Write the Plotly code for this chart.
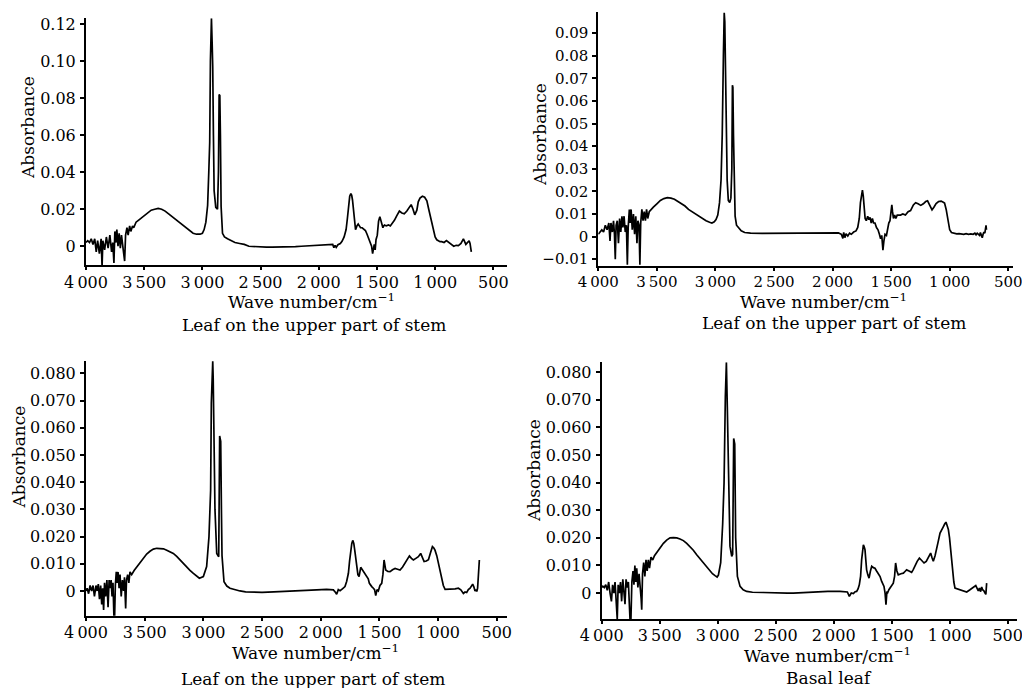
import plotly.graph_objects as go

# ---------------- data (wave number cm^-1, absorbance) ----------------
wn1 = [4000, 3985, 3970, 3955, 3940, 3925, 3912, 3900, 3885, 3870, 3862, 3855, 3840, 3825, 3810, 3795,
       3780, 3770, 3760, 3752, 3742, 3735, 3725, 3715, 3705, 3695, 3680, 3668, 3660, 3648, 3638, 3625,
       3615, 3600, 3590, 3570, 3550, 3530, 3500, 3470, 3440, 3410, 3380, 3350, 3320, 3290, 3260, 3230,
       3200, 3170, 3140, 3110, 3080, 3050, 3020, 3000, 2985, 2970, 2955, 2945, 2937, 2931, 2922, 2916,
       2911, 2905, 2899, 2885, 2870, 2862, 2856, 2850, 2845, 2839, 2827, 2810, 2784, 2750, 2720, 2680,
       2640, 2600, 2550, 2500, 2450, 2400, 2350, 2300, 2250, 2200, 2150, 2100, 2050, 2000, 1950, 1900,
       1880, 1870, 1860, 1850, 1835, 1815, 1800, 1782, 1765, 1754, 1744, 1734, 1724, 1717, 1710, 1703,
       1694, 1684, 1672, 1661, 1651, 1641, 1627, 1613, 1599, 1585, 1570, 1556, 1546, 1537, 1530, 1523,
       1515, 1508, 1497, 1486, 1475, 1463, 1456, 1449, 1442, 1435, 1420, 1400, 1385, 1371, 1350, 1329,
       1307, 1286, 1265, 1243, 1225, 1206, 1190, 1175, 1157, 1145, 1130, 1109, 1090, 1071, 1055, 1037,
       1020, 1000, 986, 972, 958, 944, 923, 903, 882, 861, 840, 819, 800, 778, 757, 736, 722, 708,
       700, 689, 678, 667, 660, 653]
ab1 = [0.002, 0.003, 0.002, 0.004, 0.001, 0.004, -0.003, 0.003, -0.004, 0.004, -0.011, 0.003, -0.002,
       0.005, -0.001, 0.006, -0.003, 0.002, -0.009, 0.008, 0.002, 0.009, 0.0, 0.007, -0.001, 0.006,
       -0.002, -0.008, 0.006, 0.010, 0.006, 0.011, 0.008, 0.011, 0.010, 0.013, 0.014, 0.015, 0.017,
       0.0185, 0.0195, 0.0200, 0.0205, 0.0200, 0.0190, 0.0175, 0.0160, 0.0145, 0.0125, 0.0110, 0.0095,
       0.0080, 0.0070, 0.0065, 0.0065, 0.0070, 0.0090, 0.0130, 0.0220, 0.0400, 0.0560, 0.1000, 0.1232,
       0.1100, 0.0970, 0.0600, 0.0300, 0.0210, 0.0200, 0.0400, 0.0820, 0.0815, 0.0600, 0.0215, 0.0070,
       0.0050, 0.0040, 0.0030, 0.0020, 0.0015, 0.0010, 0.0000, -0.0003, -0.0005, -0.0005, -0.0005,
       -0.0005, -0.0004, -0.0003, -0.0002, 0.0000, 0.0002, 0.0004, 0.0005, 0.0007, 0.0008, 0.0010,
       -0.0008, 0.0005, -0.0006, 0.0008, 0.0015, 0.0027, 0.0050, 0.0090, 0.0150, 0.0230, 0.0270,
       0.0285, 0.0275, 0.0250, 0.0200, 0.0145, 0.0090, 0.0110, 0.0120, 0.0110, 0.0100, 0.0100,
       0.0090, 0.0085, 0.0065, 0.0040, 0.0020, 0.0000, -0.0040, -0.0010, 0.0010, -0.0020, 0.0035,
       0.0060, 0.0135, 0.0160, 0.0130, 0.0110, 0.0100, 0.0110, 0.0115, 0.0110, 0.0115, 0.0110, 0.0120,
       0.0140, 0.0165, 0.0190, 0.0180, 0.0175, 0.0190, 0.0210, 0.0225, 0.0200, 0.0170, 0.0195, 0.0240,
       0.0260, 0.0270, 0.0265, 0.0245, 0.0200, 0.0150, 0.0100, 0.0050, 0.0035, 0.0030, 0.0025, 0.0025,
       0.0020, 0.0030, 0.0020, 0.0005, 0.0000, 0.0005, 0.0003, 0.0015, 0.0040, 0.0010, 0.0020, 0.0030,
       0.0015, -0.0030]

wn2 = [4000, 3985, 3970, 3955, 3940, 3925, 3910, 3900, 3892, 3880, 3870, 3862, 3855, 3848, 3838, 3828,
       3818, 3808, 3798, 3790, 3780, 3770, 3760, 3752, 3745, 3735, 3728, 3720, 3710, 3700, 3690, 3680,
       3670, 3662, 3652, 3645, 3638, 3628, 3618, 3608, 3598, 3588, 3578, 3565, 3550, 3530, 3500, 3470,
       3440, 3410, 3380, 3350, 3320, 3290, 3260, 3230, 3200, 3170, 3140, 3110, 3080, 3050, 3030, 3010,
       2995, 2980, 2965, 2952, 2942, 2932, 2925, 2920, 2914, 2908, 2900, 2890, 2878, 2868, 2860, 2855,
       2851, 2846, 2840, 2832, 2820, 2800, 2780, 2750, 2700, 2600, 2500, 2400, 2300, 2200, 2100, 2000,
       1950, 1925, 1912, 1905, 1895, 1885, 1870, 1855, 1840, 1820, 1800, 1785, 1772, 1762, 1752, 1745,
       1738, 1730, 1722, 1712, 1700, 1690, 1680, 1670, 1660, 1650, 1638, 1625, 1612, 1600, 1590, 1580,
       1570, 1562, 1552, 1540, 1530, 1520, 1510, 1500, 1494, 1488, 1480, 1470, 1460, 1448, 1440, 1420,
       1400, 1378, 1355, 1334, 1310, 1291, 1270, 1247, 1225, 1205, 1189, 1170, 1151, 1135, 1116, 1095,
       1073, 1055, 1044, 1030, 1015, 1000, 985, 960, 940, 920, 900, 880, 860, 840, 820, 800, 785, 775,
       765, 755, 745, 738, 730, 722, 715, 708, 700, 695, 690, 686]
ab2 = [0.001, 0.002, 0.003, 0.002, 0.005, 0.003, 0.006, -0.002, 0.006, 0.002, 0.007, 0.001, -0.010,
       0.005, 0.007, -0.003, 0.008, 0.002, 0.009, 0.004, 0.009, 0.002, 0.005, -0.0125, 0.004, 0.012,
       0.006, 0.012, 0.003, 0.010, 0.001, 0.009, -0.003, 0.007, 0.005, -0.0125, 0.006, 0.012, 0.007,
       0.011, 0.007, 0.012, 0.008, 0.011, 0.012, 0.013, 0.0145, 0.0160, 0.0168, 0.0172, 0.0170, 0.0165,
       0.0155, 0.0145, 0.0135, 0.0120, 0.0110, 0.0098, 0.0088, 0.0078, 0.0070, 0.0063, 0.0060, 0.0065,
       0.0075, 0.0095, 0.0150, 0.0250, 0.0450, 0.0800, 0.0990, 0.0950, 0.0780, 0.0500, 0.0250, 0.0160,
       0.0150, 0.0170, 0.0300, 0.0670, 0.0660, 0.0450, 0.0200, 0.0090, 0.0050, 0.0035, 0.0025, 0.0018,
       0.0015, 0.0014, 0.0014, 0.0014, 0.0014, 0.0015, 0.0015, 0.0016, 0.0016, 0.0010, -0.0008,
       0.0018, -0.0005, 0.0012, 0.0002, 0.0015, 0.0010, 0.0020, 0.0025, 0.0040, 0.0080, 0.0150,
       0.0195, 0.0205, 0.0180, 0.0120, 0.0080, 0.0070, 0.0090, 0.0075, 0.0085, 0.0060, 0.0080, 0.0060,
       0.0060, 0.0040, 0.0030, 0.0010, -0.0010, 0.0005, -0.0060, -0.0020, 0.0010, 0.0005, 0.0040,
       0.0060, 0.0070, 0.0120, 0.0140, 0.0110, 0.0080, 0.0095, 0.0080, 0.0095, 0.0095, 0.0095, 0.0100,
       0.0095, 0.0110, 0.0115, 0.0140, 0.0150, 0.0145, 0.0138, 0.0145, 0.0155, 0.0158, 0.0135, 0.0118,
       0.0130, 0.0146, 0.0155, 0.0157, 0.0152, 0.0148, 0.0120, 0.0080, 0.0030, 0.0018, 0.0015, 0.0012,
       0.0013, 0.0012, 0.0010, 0.0013, 0.0010, 0.0012, 0.0010, 0.0015, 0.0008, 0.0015, 0.0010, 0.0005,
       0.0018, 0.0008, -0.0005, 0.0010, 0.0020, 0.0015, 0.0040, 0.0050, 0.0030]

wn3 = [4000, 3990, 3978, 3965, 3952, 3940, 3928, 3915, 3905, 3895, 3885, 3875, 3866, 3858, 3850, 3842,
       3832, 3822, 3812, 3803, 3795, 3786, 3778, 3770, 3762, 3756, 3750, 3742, 3735, 3727, 3718, 3710,
       3700, 3690, 3680, 3672, 3662, 3655, 3645, 3635, 3625, 3611, 3590, 3568, 3547, 3526, 3505, 3483,
       3455, 3426, 3397, 3369, 3340, 3312, 3284, 3256, 3227, 3199, 3170, 3142, 3114, 3085, 3060, 3034,
       3000, 2972, 2952, 2938, 2932, 2926, 2920, 2916, 2912, 2906, 2901, 2886, 2869, 2861, 2852, 2846,
       2841, 2824, 2800, 2773, 2720, 2688, 2640, 2574, 2500, 2400, 2318, 2200, 2100, 2034, 1950, 1892,
       1875, 1864, 1850, 1835, 1815, 1793, 1779, 1764, 1754, 1744, 1735, 1727, 1718, 1710, 1700, 1693,
       1683, 1673, 1659, 1648, 1636, 1622, 1608, 1595, 1585, 1575, 1565, 1551, 1541, 1531, 1520, 1509,
       1495, 1480, 1470, 1460, 1453, 1446, 1428, 1409, 1388, 1366, 1345, 1324, 1302, 1281, 1262, 1244,
       1227, 1210, 1189, 1168, 1148, 1133, 1119, 1100, 1082, 1065, 1048, 1036, 1026, 1011, 997, 983,
       969, 955, 940, 912, 884, 855, 827, 806, 784, 770, 756, 742, 727, 716, 705, 695, 685, 677, 670,
       663, 656, 651, 648]
ab3 = [0.0000, 0.0010, -0.0010, 0.0020, 0.0000, 0.0020, -0.0020, 0.0020, 0.0000, 0.0025, -0.0030,
       0.0020, -0.0050, 0.0010, -0.0070, 0.0030, -0.0020, 0.0040, -0.0060, 0.0040, 0.0010, 0.0040,
       -0.0020, 0.0030, -0.0095, -0.0095, 0.0020, 0.0070, 0.0030, 0.0070, 0.0010, 0.0060, -0.0020,
       0.0040, 0.0000, 0.0050, -0.0064, 0.0040, 0.0060, 0.0030, 0.0070, 0.0060, 0.0075, 0.0087,
       0.0100, 0.0114, 0.0125, 0.0136, 0.0146, 0.0154, 0.0157, 0.0157, 0.0155, 0.0150, 0.0145, 0.0138,
       0.0127, 0.0114, 0.0100, 0.0087, 0.0076, 0.0065, 0.0055, 0.0047, 0.0053, 0.0090, 0.0200, 0.0370,
       0.0690, 0.0800, 0.0845, 0.0780, 0.0660, 0.0450, 0.0300, 0.0138, 0.0126, 0.0570, 0.0550, 0.0300,
       0.0130, 0.0034, 0.0018, 0.0010, 0.0003, 0.0000, -0.0003, -0.0005, -0.0005, -0.0003, -0.0002,
       0.0000, 0.0002, 0.0004, 0.0006, 0.0004, -0.0005, -0.0012, 0.0005, 0.0001, 0.0008, 0.0016,
       0.0035, 0.0065, 0.0110, 0.0150, 0.0175, 0.0186, 0.0175, 0.0150, 0.0110, 0.0077, 0.0060, 0.0053,
       0.0087, 0.0080, 0.0071, 0.0065, 0.0055, 0.0045, 0.0028, 0.0020, 0.0016, 0.0010, 0.0005, -0.0017,
       0.0005, 0.0000, 0.0020, 0.0028, 0.0060, 0.0114, 0.0095, 0.0077, 0.0072, 0.0071, 0.0078, 0.0083,
       0.0080, 0.0077, 0.0088, 0.0102, 0.0118, 0.0129, 0.0120, 0.0114, 0.0120, 0.0126, 0.0138, 0.0120,
       0.0108, 0.0110, 0.0115, 0.0140, 0.0163, 0.0158, 0.0150, 0.0130, 0.0102, 0.0070, 0.0040, 0.0020,
       0.0006, 0.0006, 0.0006, 0.0008, 0.0010, 0.0004, -0.0009, -0.0004, -0.0006, 0.0005, 0.0010,
       0.0020, 0.0025, 0.0015, 0.0000, 0.0005, -0.0002, 0.0010, 0.0045, 0.0090, 0.0114]

wn4 = [4000, 3990, 3978, 3965, 3952, 3940, 3928, 3916, 3906, 3895, 3885, 3875, 3866, 3858, 3848, 3838,
       3828, 3818, 3808, 3799, 3790, 3780, 3770, 3762, 3756, 3748, 3740, 3730, 3722, 3714, 3706, 3698,
       3688, 3678, 3668, 3660, 3655, 3648, 3638, 3628, 3618, 3608, 3598, 3588, 3575, 3560, 3545, 3528,
       3511, 3490, 3468, 3440, 3411, 3382, 3353, 3325, 3296, 3267, 3239, 3210, 3181, 3152, 3124, 3095,
       3066, 3045, 3023, 3005, 2994, 2974, 2957, 2945, 2934, 2925, 2917, 2905, 2894, 2879, 2871, 2862,
       2853, 2845, 2830, 2807, 2780, 2750, 2700, 2606, 2500, 2400, 2348, 2250, 2147, 2050, 1945, 1900,
       1882, 1865, 1848, 1830, 1815, 1802, 1790, 1779, 1768, 1759, 1750, 1744, 1737, 1730, 1723, 1716,
       1705, 1695, 1683, 1672, 1658, 1644, 1630, 1615, 1600, 1586, 1575, 1566, 1557, 1549, 1541, 1534,
       1524, 1514, 1500, 1486, 1475, 1466, 1455, 1443, 1420, 1399, 1385, 1371, 1350, 1328, 1314, 1299,
       1280, 1261, 1241, 1221, 1202, 1184, 1164, 1152, 1141, 1126, 1112, 1097, 1083, 1069, 1055, 1043,
       1032, 1022, 1011, 1001, 991, 982, 974, 964, 954, 932, 911, 882, 853, 825, 796, 775, 753, 743,
       733, 724, 716, 705, 695, 688, 681, 672, 664]
ab4 = [0.0020, 0.0025, 0.0020, 0.0030, 0.0010, 0.0040, 0.0000, -0.0030, 0.0030, 0.0000, 0.0040,
       -0.0020, -0.0095, 0.0030, 0.0000, 0.0040, -0.0030, 0.0050, -0.0010, -0.0040, 0.0050, 0.0020,
       0.0040, -0.0020, -0.0095, -0.0095, 0.0040, 0.0080, 0.0030, 0.0100, 0.0040, 0.0090, 0.0020,
       0.0070, 0.0030, -0.0020, -0.0060, 0.0070, 0.0110, 0.0060, 0.0120, 0.0080, 0.0120, 0.0090,
       0.0130, 0.0120, 0.0135, 0.0145, 0.0157, 0.0168, 0.0180, 0.0192, 0.0200, 0.0201, 0.0200, 0.0196,
       0.0190, 0.0180, 0.0169, 0.0155, 0.0139, 0.0124, 0.0109, 0.0093, 0.0078, 0.0070, 0.0063, 0.0058,
       0.0065, 0.0110, 0.0250, 0.0400, 0.0710, 0.0836, 0.0675, 0.0400, 0.0170, 0.0133, 0.0140, 0.0560,
       0.0540, 0.0200, 0.0060, 0.0024, 0.0012, 0.0006, 0.0003, 0.0002, 0.0000, 0.0000, 0.0000, 0.0002,
       0.0005, 0.0006, 0.0006, 0.0005, 0.0004, -0.0012, 0.0000, -0.0002, 0.0005, 0.0006, 0.0015, 0.0030,
       0.0060, 0.0120, 0.0160, 0.0175, 0.0168, 0.0157, 0.0120, 0.0084, 0.0065, 0.0054, 0.0080, 0.0097,
       0.0092, 0.0090, 0.0080, 0.0072, 0.0060, 0.0042, 0.0030, 0.0024, 0.0000, -0.0042, 0.0005, 0.0002,
       0.0012, 0.0018, 0.0025, 0.0036, 0.0060, 0.0109, 0.0080, 0.0066, 0.0070, 0.0072, 0.0078, 0.0084,
       0.0080, 0.0075, 0.0085, 0.0100, 0.0115, 0.0127, 0.0118, 0.0109, 0.0115, 0.0128, 0.0145, 0.0128,
       0.0115, 0.0135, 0.0157, 0.0190, 0.0217, 0.0232, 0.0240, 0.0250, 0.0257, 0.0245, 0.0230, 0.0200,
       0.0157, 0.0110, 0.0072, 0.0040, 0.0018, 0.0015, 0.0012, 0.0006, 0.0004, 0.0012, 0.0020, 0.0027,
       0.0008, 0.0018, 0.0005, 0.0022, 0.0012, 0.0008, 0.0000, -0.0005, 0.0036]

x_ticks = [4000, 3500, 3000, 2500, 2000, 1500, 1000, 500]
x_ticktext = ["4\u2009000", "3\u2009500", "3\u2009000", "2\u2009500", "2\u2009000",
              "1\u2009500", "1\u2009000", "500"]
y1_ticks = [0, 0.02, 0.04, 0.06, 0.08, 0.10, 0.12]
y1_text = ["0", "0.02", "0.04", "0.06", "0.08", "0.10", "0.12"]
y2_ticks = [-0.01, 0, 0.01, 0.02, 0.03, 0.04, 0.05, 0.06, 0.07, 0.08, 0.09]
y2_text = ["\u22120.01", "0", "0.01", "0.02", "0.03", "0.04", "0.05", "0.06", "0.07", "0.08", "0.09"]
y34_ticks = [0, 0.01, 0.02, 0.03, 0.04, 0.05, 0.06, 0.07, 0.08]
y34_text = ["0", "0.010", "0.020", "0.030", "0.040", "0.050", "0.060", "0.070", "0.080"]

captions = ["Leaf on the upper part of stem", "Leaf on the upper part of stem",
            "Leaf on the upper part of stem", "Basal leaf"]
x_title = "Wave number/cm<sup>\u22121</sup>"
y_title = "Absorbance"

# ---------------- layout geometry (pixels) ----------------
W, H = 1022, 688
FONT = "DejaVu Serif"

panels = [
    dict(wn=wn1, ab=ab1, xr=[4000, 385], yr=[-0.0103, 0.1232], px=(86, 506.7), py=(18.3, 265.3),
         yt=y1_ticks, ytt=y1_text, tf=16, ylab=(28, 128), xlab=(311, 301), cap=(314, 325)),
    dict(wn=wn2, ab=ab2, xr=[4000, 457], yr=[-0.0129, 0.0995], px=(598.3, 1013.3), py=(11.7, 265.7),
         yt=y2_ticks, ytt=y2_text, tf=15, ylab=(540, 135), xlab=(823, 301), cap=(834, 323)),
    dict(wn=wn3, ab=ab3, xr=[4000, 415], yr=[-0.0091, 0.0847], px=(86, 506.7), py=(360.7, 615.7),
         yt=y34_ticks, ytt=y34_text, tf=16, ylab=(18.5, 457), xlab=(315, 651.5), cap=(313, 678.5)),
    dict(wn=wn4, ab=ab4, xr=[4000, 422], yr=[-0.0094, 0.0836], px=(601.7, 1016.7), py=(362.3, 619),
         yt=y34_ticks, ytt=y34_text, tf=16, ylab=(534, 471), xlab=(827.5, 655), cap=(829, 677.5)),
]

fig = go.Figure()
annotations = []
layout = {}
for i, p in enumerate(panels):
    n = "" if i == 0 else str(i + 1)
    fig.add_trace(go.Scatter(x=p["wn"], y=p["ab"], mode="lines",
                             line=dict(color="black", width=1.7),
                             xaxis="x" + n, yaxis="y" + n, showlegend=False,
                             hoverinfo="skip"))
    layout["xaxis" + n] = dict(
        domain=[p["px"][0] / W, p["px"][1] / W], range=p["xr"], autorange=False,
        anchor="y" + n, showline=True, linecolor="black", linewidth=2, automargin=False,
        ticks="outside", ticklen=3, tickwidth=1.5, tickcolor="black",
        tickvals=x_ticks, ticktext=x_ticktext, showgrid=False, zeroline=False,
        ticklabeloverflow="allow", ticklabelstandoff=-2,
        tickfont=dict(family=FONT, size=p["tf"], color="black"))
    layout["yaxis" + n] = dict(
        domain=[1 - p["py"][1] / H, 1 - p["py"][0] / H], range=p["yr"], autorange=False,
        anchor="x" + n, showline=True, linecolor="black", linewidth=2, automargin=False,
        ticks="outside", ticklen=4, tickwidth=1.5, tickcolor="black",
        tickvals=p["yt"], ticktext=p["ytt"], showgrid=False, zeroline=False,
        ticklabelstandoff=1, ticklabeloverflow="allow",
        tickfont=dict(family=FONT, size=p["tf"], color="black"))
    annotations.append(dict(text=y_title, x=p["ylab"][0] / W, y=1 - p["ylab"][1] / H,
                            xref="paper", yref="paper", showarrow=False, textangle=-90,
                            xanchor="center", yanchor="middle",
                            font=dict(family=FONT, size=17, color="black")))
    annotations.append(dict(text=x_title, x=p["xlab"][0] / W, y=1 - p["xlab"][1] / H,
                            xref="paper", yref="paper", showarrow=False,
                            xanchor="center", yanchor="middle",
                            font=dict(family=FONT, size=17, color="black")))
    annotations.append(dict(text=captions[i], x=p["cap"][0] / W, y=1 - p["cap"][1] / H,
                            xref="paper", yref="paper", showarrow=False,
                            xanchor="center", yanchor="middle",
                            font=dict(family=FONT, size=17, color="black")))

fig.update_layout(width=W, height=H, autosize=False,
                  margin=dict(l=0, r=0, t=0, b=0, pad=0, autoexpand=False),
                  paper_bgcolor="white", plot_bgcolor="white",
                  annotations=annotations, **layout)

fig.write_html("out.html", config={"displayModeBar": False},
               post_script="document.body.style.margin='0';document.body.style.overflow='hidden';")
